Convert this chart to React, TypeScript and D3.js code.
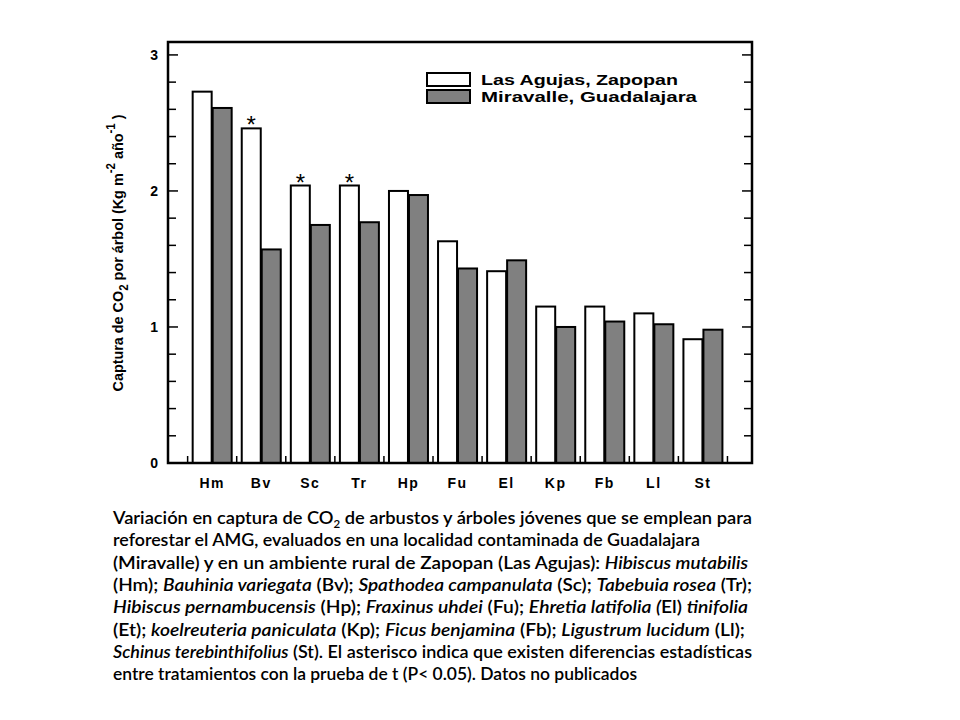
import React, { useRef, useEffect } from 'react';
import * as d3 from 'd3';

// species codes on the x axis
const categories = ['Hm', 'Bv', 'Sc', 'Tr', 'Hp', 'Fu', 'El', 'Kp', 'Fb', 'Ll', 'St'];
// Las Agujas, Zapopan (white bars)
const agujas = [2.73, 2.46, 2.04, 2.04, 2.0, 1.63, 1.41, 1.15, 1.15, 1.1, 0.91];
// Miravalle, Guadalajara (grey bars)
const miravalle = [2.61, 1.57, 1.75, 1.77, 1.97, 1.43, 1.49, 1.0, 1.04, 1.02, 0.98];
// categories marked with an asterisk (significant difference)
const significant = ['Bv', 'Sc', 'Tr'];
const yTicks = [0, 1, 2, 3];

const seriesNames = ['Las Agujas, Zapopan', 'Miravalle, Guadalajara'];
const seriesFill = ['#ffffff', '#808080'];

type Seg = { t: string; i?: boolean; sub?: boolean };
const caption: Seg[][] = [
  [{ t: 'Variación en captura de CO' }, { t: '2', sub: true }, { t: ' de arbustos y árboles jóvenes que se emplean para' }],
  [{ t: 'reforestar el AMG, evaluados en una localidad contaminada de Guadalajara' }],
  [{ t: '(Miravalle) y en un ambiente rural de Zapopan (Las Agujas): ' }, { t: 'Hibiscus mutabilis', i: true }],
  [{ t: '(Hm); ' }, { t: 'Bauhinia variegata', i: true }, { t: ' (Bv); ' }, { t: 'Spathodea campanulata', i: true }, { t: ' (Sc); ' }, { t: 'Tabebuia rosea', i: true }, { t: ' (Tr);' }],
  [{ t: 'Hibiscus pernambucensis', i: true }, { t: ' (Hp); ' }, { t: 'Fraxinus uhdei', i: true }, { t: ' (Fu); ' }, { t: 'Ehretia latifolia (', i: true }, { t: 'El) ' }, { t: 'tinifolia', i: true }],
  [{ t: '(Et); ' }, { t: 'koelreuteria paniculata', i: true }, { t: ' (Kp); ' }, { t: 'Ficus benjamina', i: true }, { t: ' (Fb); ' }, { t: 'Ligustrum lucidum', i: true }, { t: ' (Ll);' }],
  [{ t: 'Schinus terebinthifolius', i: true }, { t: ' (St). El asterisco indica que existen diferencias estadísticas' }],
  [{ t: 'entre tratamientos con la prueba de t (P< 0.05). Datos no publicados' }],
];
const captionWidths = [639, 587, 635, 639, 635, 632, 639, 524];

const App: React.FC = () => {
  const svgRef = useRef<SVGSVGElement>(null);

  useEffect(() => {
    if (!svgRef.current) return;
    const svg = d3.select(svgRef.current);
    svg.selectAll('*').remove();

    const left = 168, right = 752, top = 42, bottom = 463;
    const font = '"Liberation Sans", Arial, sans-serif';

    const x = d3.scaleLinear().domain([0.1, 12]).range([left, right]);
    const y = d3.scaleLinear().domain([0, 3.095]).range([bottom, top]);
    const barW = 19;

    // bars
    const g = svg.append('g');
    categories.forEach((c, i) => {
      const cx = x(i + 1);
      [agujas[i], miravalle[i]].forEach((v, s) => {
        g.append('rect')
          .attr('x', s === 0 ? cx - barW - 0.5 : cx + 0.5)
          .attr('y', y(v))
          .attr('width', barW)
          .attr('height', y(0) - y(v))
          .attr('fill', seriesFill[s])
          .attr('stroke', '#000')
          .attr('stroke-width', 2);
      });
      if (significant.includes(c)) {
        g.append('text')
          .attr('x', cx - barW / 2 - 0.5)
          .attr('y', y(agujas[i]) + 5)
          .attr('text-anchor', 'middle')
          .style('font-family', font)
          .style('font-size', '24px')
          .text('*');
      }
      // category label
      svg.append('text')
        .attr('x', cx)
        .attr('y', bottom + 25)
        .attr('text-anchor', 'middle')
        .style('font-family', font)
        .style('font-weight', 'bold')
        .style('font-size', '14px')
        .style('letter-spacing', '1.5px')
        .text(c);
    });

    // frame
    svg.append('rect')
      .attr('x', left).attr('y', top)
      .attr('width', right - left).attr('height', bottom - top)
      .attr('fill', 'none').attr('stroke', '#000').attr('stroke-width', 2.5);

    // y ticks inward on both sides
    const minor = d3.range(0, 3.01, 0.2);
    minor.forEach(v => {
      const isMajor = Math.abs(v - Math.round(v)) < 1e-6;
      const len = isMajor ? 10 : 8;
      svg.append('line').attr('x1', left).attr('x2', left + len).attr('y1', y(v)).attr('y2', y(v))
        .attr('stroke', '#000').attr('stroke-width', 1.5);
      svg.append('line').attr('x1', right).attr('x2', right - len).attr('y1', y(v)).attr('y2', y(v))
        .attr('stroke', '#000').attr('stroke-width', 1.5);
    });
    yTicks.forEach(v => {
      svg.append('text')
        .attr('x', 158)
        .attr('y', y(v) + 5)
        .attr('text-anchor', 'end')
        .style('font-family', font)
        .style('font-weight', 'bold')
        .style('font-size', '14px')
        .text(String(v));
    });

    // x ticks between categories
    d3.range(0.5, 12, 1).forEach(v => {
      svg.append('line').attr('x1', x(v)).attr('x2', x(v)).attr('y1', bottom).attr('y2', bottom - 7)
        .attr('stroke', '#000').attr('stroke-width', 1.5);
    });

    // y axis title
    const yt = svg.append('text')
      .attr('transform', 'translate(123,253) rotate(-90)')
      .attr('text-anchor', 'middle')
      .style('font-family', '"Liberation Sans Narrow", "Liberation Sans", Arial, sans-serif')
      .style('font-weight', 'bold')
      .style('font-size', '15px')
      .attr('textLength', 277)
      .attr('lengthAdjust', 'spacingAndGlyphs');
    yt.append('tspan').text('Captura de CO');
    yt.append('tspan').attr('dy', 5).style('font-size', '12px').text('2');
    yt.append('tspan').attr('dy', -5).text(' por árbol (Kg m');
    yt.append('tspan').attr('dy', -8).style('font-size', '12px').text('-2');
    yt.append('tspan').attr('dy', 8).text('  año');
    yt.append('tspan').attr('dy', -8).style('font-size', '12px').text('-1');
    yt.append('tspan').attr('dy', 8).text(' )');

    // legend
    seriesNames.forEach((name, s) => {
      const ly = 73 + s * 17;
      svg.append('rect').attr('x', 427).attr('y', ly).attr('width', 43).attr('height', 13)
        .attr('fill', seriesFill[s]).attr('stroke', '#000').attr('stroke-width', 2);
      svg.append('text').attr('x', 481).attr('y', ly + 12)
        .style('font-family', font).style('font-weight', 'bold').style('font-size', '15.5px')
        .attr('textLength', s === 0 ? 197 : 216)
        .attr('lengthAdjust', 'spacingAndGlyphs')
        .text(name);
    });

    // caption
    caption.forEach((line, li) => {
      const t = svg.append('text')
        .attr('x', 113)
        .attr('y', 524 + li * 22.3)
        .style('font-family', 'Lato, "Open Sans", sans-serif')
        .style('font-size', '17.5px')
        .style('font-weight', 600)
        .attr('textLength', captionWidths[li])
        .attr('lengthAdjust', 'spacingAndGlyphs');
      line.forEach((seg, k) => {
        const sp = t.append('tspan').text(seg.t);
        if (seg.i) sp.style('font-style', 'italic');
        if (seg.sub) sp.style('font-size', '11px').attr('dy', 4);
        else if (k > 0 && line[k - 1].sub) sp.attr('dy', -4);
      });
    });
  }, []);

  return (
    <svg
      ref={svgRef}
      width={960}
      height={720}
      style={{ position: 'absolute', left: 0, top: 0, background: '#fff' }}
    />
  );
};

export default App;
